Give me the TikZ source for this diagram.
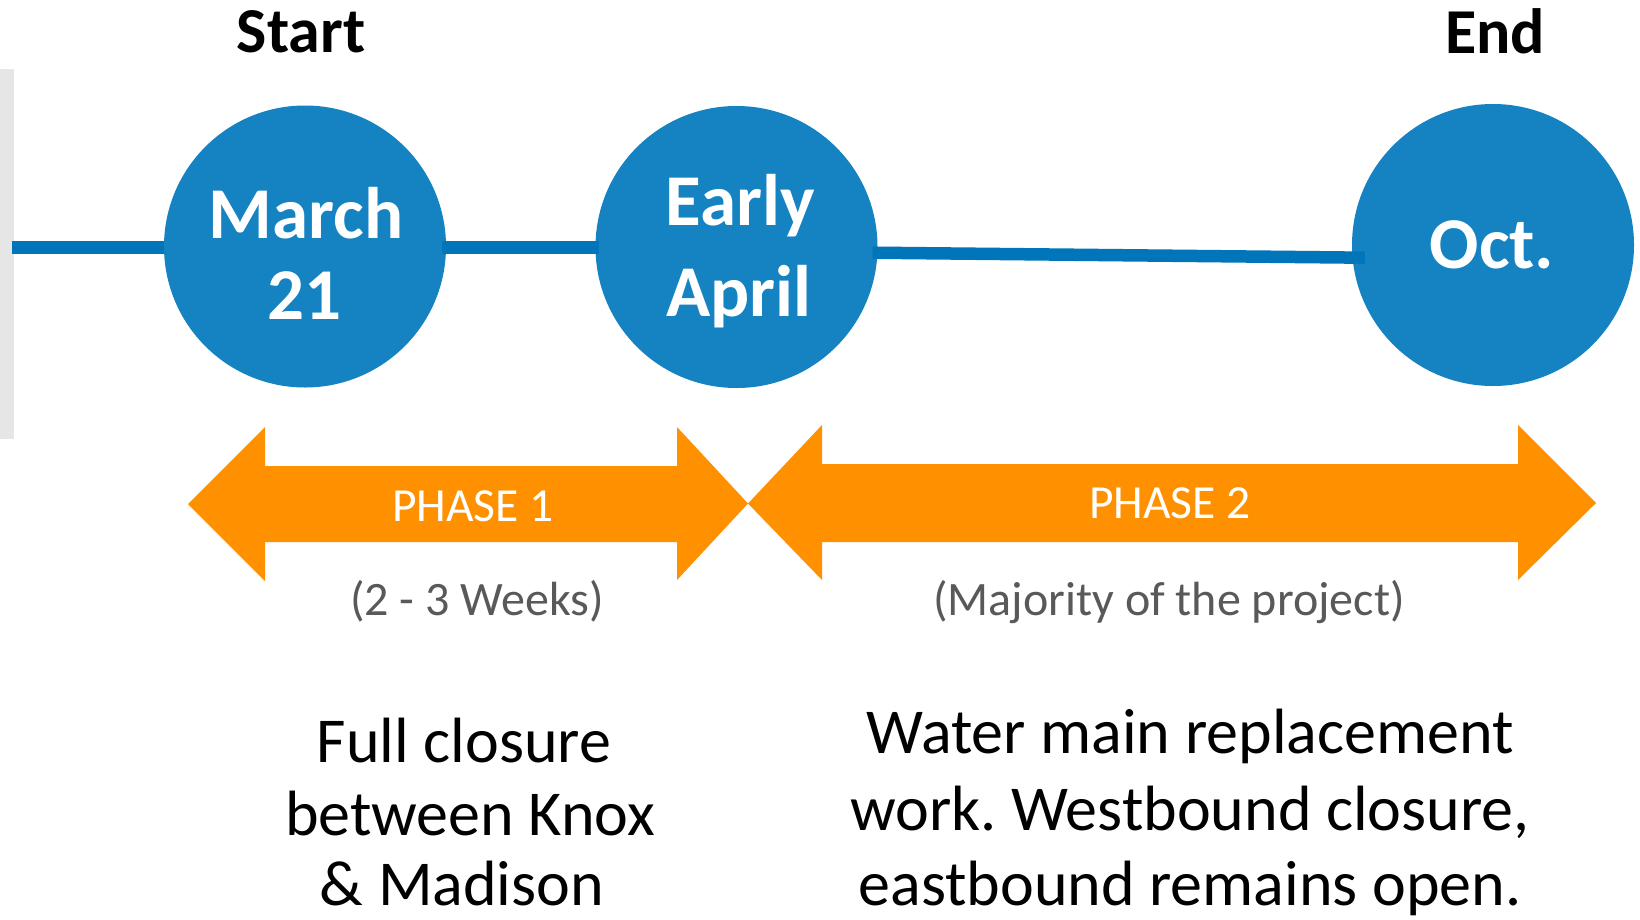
\documentclass[tikz,border=0pt]{standalone}
\usepackage{fontspec}
\setmainfont{Carlito}
\usetikzlibrary{calc}
\definecolor{circblue}{HTML}{1582C1}
\definecolor{lineblue}{HTML}{0075BA}
\definecolor{phaseorange}{HTML}{FF9100}
\definecolor{subgray}{HTML}{595959}
\definecolor{bargray}{HTML}{E6E6E6}
\tikzset{
  milestone/.style={circle, fill=circblue, minimum size=282pt, inner sep=0pt},
  tline/.style={draw=lineblue, line width=12.5pt},
  datetxt/.style={anchor=base, text=white, inner sep=0pt, font=\bfseries\fontsize{73}{82}\selectfont},
  headtxt/.style={anchor=base, text=black, inner sep=0pt, font=\bfseries\fontsize{64}{74}\selectfont},
  phasetxt/.style={anchor=base, text=white, inner sep=0pt, font=\fontsize{47.5}{56}\selectfont},
  subtxt/.style={anchor=base, text=subgray, inner sep=0pt, font=\fontsize{48}{57}\selectfont},
  bodytxt/.style={anchor=base, text=black, inner sep=0pt, font=\fontsize{64}{77}\selectfont},
  phasearrow/.style={fill=phaseorange, draw=none}
}
\begin{document}
\frenchspacing
\begin{tikzpicture}[x=1pt,y=-1pt]
\useasboundingbox[fill=white] (0,0) rectangle (1640,919);
% gray side bar
\fill[bargray] (0,69) rectangle (14,439);
% milestones
\node[milestone] (c1) at (305,246.5) {};
\node[milestone] (c2) at (736.5,247) {};
\node[milestone] (c3) at (1493,245) {};
% timeline
\coordinate (lineL) at (12,247.5);
\draw[tline] (lineL) -- ($(c1.west)+(0,1)$);
\draw[tline] ($(c1.east)+(-4,1)$) -- ($(c2.west)+(4,0.5)$);
\draw[tline] ($(c2.east)+(-5,5.7)$) -- ($(c3.west)+(13,12.7)$);
% labels
\node[headtxt] (start) at (301,52) {Start};
\node[headtxt] (end) at (1495,53) {End};
\node[datetxt] (m1) at (306,238) {March};
\node[datetxt] (m2) at (304,319) {21};
\node[datetxt] (a1) at (740,225) {Early};
\node[datetxt] (a2) at (739,316) {April};
\node[datetxt] (o1) at (1492,268) {Oct.};
% phase arrows
\fill[phasearrow] (188,504) -- (265,427) -- (265,466) -- (677,466) -- (677,427)
  -- (748,503.5) -- (677,580) -- (677,542) -- (265,542) -- (265,581) -- cycle;
\fill[phasearrow] (748,503.5) -- (822,425) -- (822,464) -- (1518,464) -- (1518,425)
  -- (1596,503) -- (1518,580) -- (1518,542) -- (822,542) -- (822,580) -- cycle;
\node[phasetxt] (p1) at (473,521) {PHASE 1};
\node[phasetxt] (p2) at (1170,518) {PHASE 2};
\node[subtxt] (s1) at (477,615) {(2 - 3 Weeks)};
\node[subtxt] (s2) at (1169,615) {(Majority of the project)};
% descriptions
\node[bodytxt] (d1a) at (464,762) {Full closure};
\node[bodytxt] (d1b) at (470,835) {between Knox};
\node[bodytxt] (d1c) at (462,905) {\& Madison};
\node[bodytxt] (d2a) at (1190,753) {Water main replacement};
\node[bodytxt] (d2b) at (1190,830) {work. Westbound closure,};
\node[bodytxt] (d2c) at (1190,905) {eastbound remains open.};
\end{tikzpicture}
\end{document}
